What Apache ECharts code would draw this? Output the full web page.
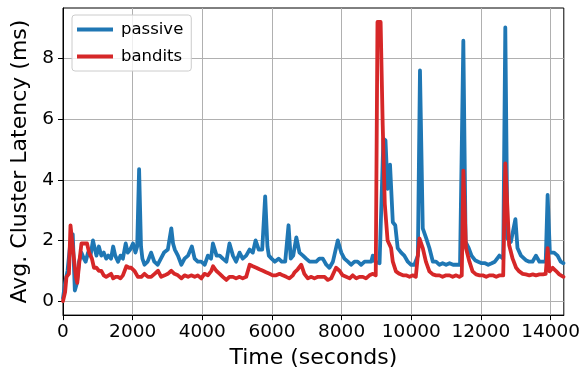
<!DOCTYPE html>
<html><head><meta charset="utf-8">
<script src="https://cdn.jsdelivr.net/npm/echarts@6/dist/echarts.min.js"></script>
<style>html,body{margin:0;padding:0;background:#fff}#c{width:583px;height:374px}</style>
</head><body><div id="c"></div>
<script>
const passiveTime = [0,60,130,200,280,340,400,460,530,600,650,720,790,860,920,960,1030,1100,1170,1240,1300,1380,1440,1500,1580,1650,1720,1800,1860,1930,2010,2080,2130,2185,2240,2280,2340,2430,2530,2620,2720,2810,2900,3010,3110,3160,3210,3300,3400,3490,3590,3700,3780,3870,3970,4070,4160,4250,4305,4360,4410,4500,4590,4690,4780,4880,4970,5070,5160,5260,5360,5450,5530,5620,5720,5805,5870,5910,5990,6080,6190,6280,6380,6476,6540,6610,6700,6790,6890,6980,7080,7170,7270,7360,7460,7560,7650,7750,7890,7990,8080,8180,8270,8370,8460,8560,8660,8750,8850,8895,8960,9090,9200,9260,9320,9390,9470,9540,9610,9710,9800,9900,9990,10090,10190,10250,10330,10430,10520,10620,10710,10810,10900,11000,11100,11200,11290,11400,11495,11560,11650,11730,11830,11920,12020,12120,12210,12310,12400,12530,12640,12700,12760,12860,12990,13050,13150,13290,13390,13480,13580,13680,13780,13860,13915,13980,14100,14200,14290,14370];
const passiveLatency = [0.1,0.6,1.0,1.8,2.2,0.35,0.6,1.3,1.6,1.4,1.3,1.6,1.5,2.0,1.7,1.5,1.8,1.5,1.6,1.4,1.5,1.4,1.8,1.5,1.3,1.5,1.4,1.9,1.6,1.7,1.9,1.6,1.8,4.35,1.8,1.4,1.2,1.3,1.6,1.3,1.2,1.4,1.6,1.7,2.4,1.9,1.7,1.5,1.2,1.4,1.5,1.8,1.4,1.3,1.3,1.2,1.5,1.4,1.9,1.9,1.5,1.5,1.4,1.3,1.9,1.5,1.3,1.6,1.4,1.5,1.7,1.6,2.0,1.7,1.7,3.45,1.8,1.5,1.4,1.3,1.4,1.3,1.3,2.5,1.4,1.5,2.1,1.6,1.5,1.4,1.3,1.3,1.3,1.4,1.4,1.2,1.1,1.3,2.0,1.6,1.4,1.3,1.2,1.3,1.3,1.2,1.3,1.3,1.3,1.5,1.3,1.25,5.35,5.3,3.7,4.5,2.6,2.5,1.75,1.6,1.5,1.3,1.2,1.2,1.5,7.6,2.4,2.07,1.75,1.3,1.3,1.2,1.25,1.2,1.25,1.2,1.2,1.2,8.58,1.95,1.75,1.5,1.35,1.3,1.25,1.25,1.2,1.25,1.3,1.5,1.4,9.02,2.07,1.95,2.7,1.75,1.5,1.35,1.3,1.3,1.5,1.3,1.3,1.3,3.5,1.6,1.6,1.5,1.3,1.25];
const banditsTime = [0,60,100,170,215,260,305,370,410,470,530,600,690,750,830,890,960,1030,1100,1170,1240,1310,1380,1440,1510,1580,1650,1720,1820,1900,1960,2050,2150,2250,2340,2440,2530,2630,2730,2820,2920,3010,3110,3200,3300,3400,3490,3590,3680,3780,3870,3970,4060,4160,4260,4310,4400,4500,4590,4690,4780,4880,4970,5070,5160,5260,5360,5450,5550,5640,5740,5830,5930,6020,6120,6220,6310,6410,6500,6600,6650,6740,6840,6930,7030,7130,7220,7320,7410,7510,7600,7700,7840,7940,8030,8130,8230,8320,8420,8510,8610,8700,8800,8900,8980,9030,9120,9180,9240,9320,9420,9470,9560,9660,9760,9850,9950,10050,10130,10180,10235,10330,10420,10520,10620,10710,10810,10900,11000,11100,11190,11290,11380,11450,11496,11570,11670,11760,11860,11960,12050,12150,12240,12340,12440,12540,12640,12700,12810,12910,13010,13100,13200,13290,13390,13490,13580,13680,13780,13860,13915,13970,14060,14150,14250,14370];
const banditsLatency = [0,0.3,0.8,0.9,2.5,2.0,1.5,0.8,0.6,1.3,1.9,1.9,1.9,1.6,1.4,1.1,1.1,1.0,1.0,0.85,0.8,0.85,0.9,0.75,0.8,0.8,0.75,0.85,1.15,1.1,1.1,1.0,0.8,0.8,0.9,0.8,0.8,0.9,1.0,0.8,0.85,0.9,1.0,0.9,0.85,0.75,0.85,0.8,0.85,0.8,0.85,0.75,0.9,0.85,1.0,1.15,1.0,0.9,0.8,0.7,0.8,0.8,0.75,0.8,0.75,0.8,1.2,1.15,1.1,1.05,1.0,0.95,0.9,0.85,0.85,0.9,0.85,0.8,0.75,0.85,0.95,1.05,1.2,0.9,0.75,0.8,0.75,0.8,0.8,0.8,0.7,0.75,1.1,1.0,0.85,0.8,0.75,0.85,0.75,0.8,0.8,0.75,0.85,0.9,0.85,9.2,9.2,5.8,3.2,2.0,1.75,1.3,0.98,0.9,0.85,0.85,0.8,0.85,0.8,0.85,2.07,1.75,1.3,0.98,0.88,0.85,0.85,0.8,0.85,0.85,0.8,0.85,0.8,0.85,4.3,1.75,1.3,0.98,0.88,0.85,0.85,0.8,0.85,0.85,0.8,0.85,0.85,4.54,1.85,1.4,1.1,0.98,0.9,0.88,0.85,0.88,0.85,0.88,0.88,0.9,1.75,0.98,1.1,1.0,0.88,0.8];
const xTicks = [0,2000,4000,6000,8000,10000,12000,14000];
const yTicks = [0,2,4,6,8];

const zip = (t, v) => t.map((x, i) => [x, v[i]]);
const chart = echarts.init(document.getElementById('c'), null, {renderer: 'canvas'});
const F = 'DejaVu Sans';
chart.setOption({
  animation: false,
  textStyle: {fontFamily: F},
  grid: {left: 63, right: 19, top: 8, bottom: 56, show: true, borderColor: '#000', borderWidth: 1, backgroundColor: 'transparent'},
  legend: {
    left: 72, top: 15, orient: 'vertical',
    data: ['passive', 'bandits'],
    icon: 'rect', itemWidth: 36, itemHeight: 4, itemGap: 10,
    textStyle: {fontFamily: F, fontSize: 16.5, color: '#000', padding: [0, 0, 0, 3]},
    backgroundColor: 'rgba(255,255,255,0.8)', borderColor: '#cccccc', borderWidth: 1, borderRadius: 3,
    padding: [6, 8, 6, 5]
  },
  xAxis: {
    type: 'value', min: 0, max: 14380, interval: 2000,
    name: 'Time (seconds)', nameLocation: 'middle', nameGap: 31,
    nameTextStyle: {fontFamily: F, fontSize: 22, color: '#000'},
    axisLine: {show: true, onZero: false, lineStyle: {color: '#000', width: 1}},
    axisTick: {show: true, length: 5, inside: false, customValues: xTicks, lineStyle: {color: '#000'}},
    axisLabel: {fontFamily: F, fontSize: 18.5, color: '#000', margin: 8, customValues: xTicks, formatter: v => String(v)},
    splitLine: {show: true, lineStyle: {color: '#b0b0b0', width: 1}}
  },
  yAxis: {
    type: 'value', min: -0.46, max: 9.66, interval: 2,
    name: 'Avg. Cluster Latency (ms)', nameLocation: 'middle', nameGap: 30,
    nameTextStyle: {fontFamily: F, fontSize: 22, color: '#000'},
    axisLine: {show: true, onZero: false, lineStyle: {color: '#000', width: 1}},
    axisTick: {show: true, length: 5, inside: false, customValues: yTicks, lineStyle: {color: '#000'}},
    axisLabel: {fontFamily: F, fontSize: 18.5, color: '#000', margin: 9, customValues: yTicks, formatter: v => String(v)},
    splitLine: {show: true, lineStyle: {color: '#b0b0b0', width: 1}}
  },
  series: [
    {name: 'passive', type: 'line', data: zip(passiveTime, passiveLatency), showSymbol: false, symbol: 'none',
     lineStyle: {color: '#1f77b4', width: 3.8, join: 'round', cap: 'round'}, itemStyle: {color: '#1f77b4'}, z: 2},
    {name: 'bandits', type: 'line', data: zip(banditsTime, banditsLatency), showSymbol: false, symbol: 'none',
     lineStyle: {color: '#d62728', width: 3.8, join: 'round', cap: 'round'}, itemStyle: {color: '#d62728'}, z: 3}
  ]
});
</script></body></html>
